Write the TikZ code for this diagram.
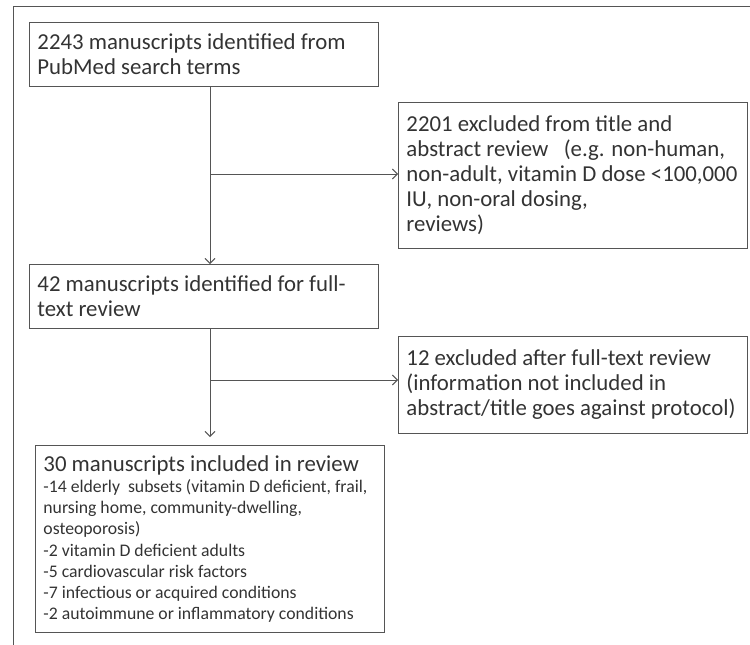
\documentclass[tikz,border=0pt]{standalone}
\usepackage{fontspec}
\setmainfont{Carlito}
\usetikzlibrary{arrows.meta, calc}

\definecolor{framegray}{HTML}{555555}
\definecolor{textgray}{HTML}{333333}

\tikzset{
    stagebox/.style={draw=framegray, line width=0.9pt, anchor=north west,
        text width=333pt, inner xsep=8pt, inner ysep=0pt, align=flush left,
        text=textgray, font=\fontsize{22.8}{25}\selectfont},
    flow/.style={draw=framegray, line width=0.9pt,
        -{Straight Barb[length=5pt, width=10pt]}}
}

\begin{document}
\begin{tikzpicture}[x=1pt, y=-1pt]
    \useasboundingbox (0,0) rectangle (750,645);
    \draw[framegray, line width=0.8pt] (13,645) -- (13,6) -- (750,6);

    \node[stagebox, minimum height=64pt] (ident) at (29,22)
        {2243 manuscripts identified from\\PubMed search terms};
    \node[stagebox, minimum height=146pt] (excl1) at (398,102)
        {2201 excluded from title and\\abstract review\ \ \ (e.g. non-human,\\non-adult, vitamin D dose <100,000\\IU, non-oral dosing,\\reviews)};
    \node[stagebox, minimum height=64pt] (full) at (29,264)
        {42 manuscripts identified for full-\\text review};
    \node[stagebox, minimum height=97pt] (excl2) at (398,336)
        {12 excluded after full-text review\\(information not included in\\abstract/title goes against protocol)};
    \node[stagebox, minimum height=187pt, font=\fontsize{17.7}{21.2}\selectfont] (incl) at (35,445)
        {{\fontsize{22.8}{25}\selectfont 30 manuscripts included in review}\\
        -14 elderly\ \ subsets (vitamin D deficient, frail,\\
        nursing home, community-dwelling,\\
        osteoporosis)\\
        -2 vitamin D deficient adults\\
        -5 cardiovascular risk factors\\
        -7 infectious or acquired conditions\\
        -2 autoimmune or inflammatory conditions};

    \coordinate (split1) at (210,174);
    \coordinate (split2) at (210,380);

    \draw[flow] (ident.south -| split1) -- (full.north -| split1);
    \draw[flow] (split1) -- (split1 -| excl1.west);
    \draw[flow, shorten >=8pt] (full.south -| split2) -- (incl.north -| split2);
    \draw[flow] (split2) -- (split2 -| excl2.west);
\end{tikzpicture}
\end{document}
